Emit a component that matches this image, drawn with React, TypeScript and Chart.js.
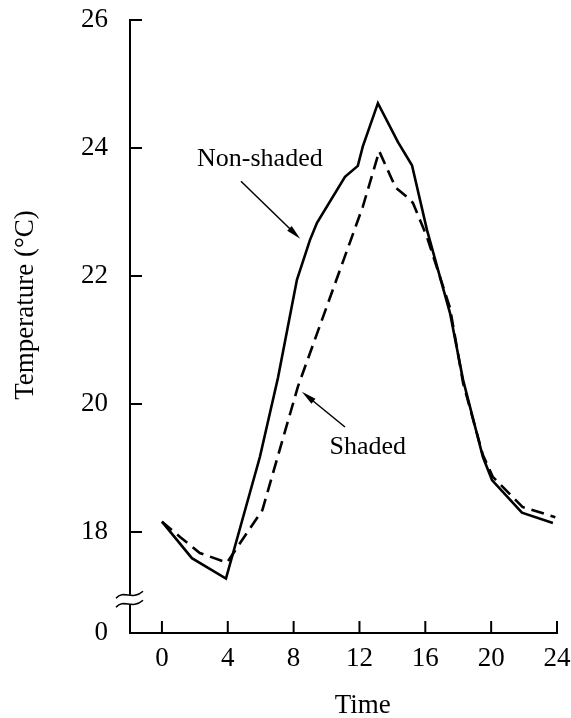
import React, { useEffect, useRef } from 'react';
import { Chart, registerables } from 'chart.js';

Chart.register(...registerables);

// ---- data ----
const NON_SHADED_HOURS = [0, 1.82, 3.89, 5.95, 7.05, 8.2, 8.99, 9.42, 11.12, 11.9, 12.2, 13.12, 14.34, 15.19, 16.1, 17.5, 18.29, 19.5, 20.05, 21.87, 23.75];
const NON_SHADED_TEMPS = [18.16, 17.59, 17.27, 19.17, 20.41, 21.94, 22.56, 22.83, 23.55, 23.72, 24.02, 24.7, 24.09, 23.73, 22.72, 21.42, 20.38, 19.17, 18.81, 18.3, 18.14];

const SHADED_HOURS = [0, 1.1, 2.3, 3.95, 6.1, 8.26, 10.6, 12.2, 13.2, 14.2, 14.9, 15.25, 16.1, 17.5, 18.3, 19.5, 20.1, 21.9, 23.9];
const SHADED_TEMPS = [18.16, 17.92, 17.67, 17.52, 18.34, 20.27, 21.94, 23.08, 23.95, 23.38, 23.23, 23.14, 22.61, 21.5, 20.32, 19.2, 18.86, 18.39, 18.23];

const X_TICKS = [0, 4, 8, 12, 16, 20, 24];
const X_MIN = -1.94;
const X_MAX = 24;

const Y_MIN = 16.42; // position of the "0" below the axis break
const Y_MAX = 26;
const Y_TICKS = [16.42, 18, 20, 22, 24, 26];
const Y_TICK_LABELS = ['0', '18', '20', '22', '24', '26'];
const Y_BREAK = 16.94;

const SERIES_LABELS = ['Non-shaded', 'Shaded'];
const X_TITLE = 'Time';
const Y_TITLE = 'Temperature (°C)';

// annotation anchors in data coordinates
const NON_SHADED_TEXT_AT = { x: 5.95, y: 23.82 };
const NON_SHADED_ARROW = { x1: 4.8, y1: 23.48, x2: 8.4, y2: 22.58 };
const SHADED_TEXT_AT = { x: 12.5, y: 19.22 };
const SHADED_ARROW = { x1: 11.12, y1: 19.64, x2: 8.5, y2: 20.19 };
const X_TITLE_AT = 12.2;

const FONT = "'Liberation Serif', 'Times New Roman', serif";

const toPoints = (xs: number[], ys: number[]) => xs.map((x, i) => ({ x, y: ys[i] }));

const drawArrow = (ctx: CanvasRenderingContext2D, x1: number, y1: number, x2: number, y2: number) => {
  const ang = Math.atan2(y2 - y1, x2 - x1);
  const len = 15;
  const hw = 3.2;
  ctx.beginPath();
  ctx.moveTo(x1, y1);
  ctx.lineTo(x2 - Math.cos(ang) * len * 0.6, y2 - Math.sin(ang) * len * 0.6);
  ctx.lineWidth = 1.5;
  ctx.stroke();
  ctx.beginPath();
  ctx.moveTo(x2, y2);
  ctx.lineTo(x2 - Math.cos(ang) * len - Math.sin(ang) * hw, y2 - Math.sin(ang) * len + Math.cos(ang) * hw);
  ctx.lineTo(x2 - Math.cos(ang) * len + Math.sin(ang) * hw, y2 - Math.sin(ang) * len - Math.cos(ang) * hw);
  ctx.closePath();
  ctx.fill();
};

const axesPlugin = {
  id: 'paperAxes',
  afterDraw(chart: any) {
    const { ctx, scales } = chart;
    const x = scales.x;
    const y = scales.y;
    ctx.save();
    ctx.strokeStyle = '#000';
    ctx.fillStyle = '#000';
    ctx.lineWidth = 2;
    const ax = x.getPixelForValue(X_MIN);
    const y0 = y.getPixelForValue(Y_MIN);
    const yTop = y.getPixelForValue(Y_MAX);
    const yb = y.getPixelForValue(Y_BREAK);
    // y axis with break
    ctx.beginPath();
    ctx.moveTo(ax, yTop - 1);
    ctx.lineTo(ax, yb - 5);
    ctx.moveTo(ax, yb + 5);
    ctx.lineTo(ax, y0 + 1);
    ctx.stroke();
    // x axis
    ctx.beginPath();
    ctx.moveTo(ax - 1, y0);
    ctx.lineTo(x.getPixelForValue(X_MAX) + 1, y0);
    ctx.stroke();
    // inward ticks
    ctx.beginPath();
    Y_TICKS.forEach((v) => {
      if (v <= Y_MIN) return;
      const py = y.getPixelForValue(v);
      ctx.moveTo(ax, py);
      ctx.lineTo(ax + 12, py);
    });
    X_TICKS.forEach((v) => {
      const px = x.getPixelForValue(v);
      ctx.moveTo(px, y0);
      ctx.lineTo(px, y0 - 12);
    });
    ctx.stroke();
    // break symbol
    ctx.lineWidth = 1.6;
    [-4.5, 4.5].forEach((off) => {
      const cy = yb + off;
      ctx.beginPath();
      ctx.moveTo(ax - 14, cy + 3);
      ctx.bezierCurveTo(ax - 6, cy - 6, ax + 2, cy + 6, ax + 13, cy - 4);
      ctx.stroke();
    });
    // titles
    ctx.font = `27px ${FONT}`;
    ctx.textAlign = 'center';
    ctx.textBaseline = 'alphabetic';
    ctx.fillText(X_TITLE, x.getPixelForValue(X_TITLE_AT), 713);
    ctx.save();
    ctx.translate(33, 305);
    ctx.rotate(-Math.PI / 2);
    ctx.fillText(Y_TITLE, 0, 0);
    ctx.restore();
    // annotations
    ctx.font = `26px ${FONT}`;
    ctx.fillText(SERIES_LABELS[0], x.getPixelForValue(NON_SHADED_TEXT_AT.x), y.getPixelForValue(NON_SHADED_TEXT_AT.y) + 7);
    ctx.fillText(SERIES_LABELS[1], x.getPixelForValue(SHADED_TEXT_AT.x), y.getPixelForValue(SHADED_TEXT_AT.y));
    drawArrow(ctx,
      x.getPixelForValue(NON_SHADED_ARROW.x1), y.getPixelForValue(NON_SHADED_ARROW.y1),
      x.getPixelForValue(NON_SHADED_ARROW.x2), y.getPixelForValue(NON_SHADED_ARROW.y2));
    drawArrow(ctx,
      x.getPixelForValue(SHADED_ARROW.x1), y.getPixelForValue(SHADED_ARROW.y1),
      x.getPixelForValue(SHADED_ARROW.x2), y.getPixelForValue(SHADED_ARROW.y2));
    ctx.restore();
  },
};

export default function App() {
  const ref = useRef<HTMLCanvasElement | null>(null);
  useEffect(() => {
    if (!ref.current) return;
    const chart = new Chart(ref.current, {
      type: 'line',
      data: {
        datasets: [
          {
            label: SERIES_LABELS[0],
            data: toPoints(NON_SHADED_HOURS, NON_SHADED_TEMPS),
            borderColor: '#000',
            borderWidth: 2.6,
            pointRadius: 0,
            tension: 0,
            fill: false,
            borderJoinStyle: 'miter',
          },
          {
            label: SERIES_LABELS[1],
            data: toPoints(SHADED_HOURS, SHADED_TEMPS),
            borderColor: '#000',
            borderWidth: 2.6,
            borderDash: [13, 7],
            pointRadius: 0,
            tension: 0,
            fill: false,
          },
        ],
      },
      options: {
        animation: false,
        responsive: false,
        devicePixelRatio: 1,
        layout: { padding: { top: 20, right: 14, left: 0, bottom: 0 } },
        plugins: { legend: { display: false }, tooltip: { enabled: false } },
        scales: {
          x: {
            type: 'linear',
            min: X_MIN,
            max: X_MAX,
            afterBuildTicks: (s: any) => { s.ticks = X_TICKS.map((v) => ({ value: v })); },
            afterFit: (s: any) => { s.height = 85; s.paddingLeft = 0; s.paddingRight = 0; },
            grid: { display: false, drawTicks: false },
            border: { display: false },
            ticks: {
              autoSkip: false,
              maxRotation: 0,
              padding: 10,
              color: '#000',
              font: { family: FONT, size: 27 },
            },
            title: { display: false },
          },
          y: {
            type: 'linear',
            min: Y_MIN,
            max: Y_MAX,
            afterBuildTicks: (s: any) => { s.ticks = Y_TICKS.map((v) => ({ value: v })); },
            afterFit: (s: any) => { s.width = 130; s.paddingTop = 0; s.paddingBottom = 0; },
            grid: { display: false, drawTicks: false },
            border: { display: false },
            ticks: {
              autoSkip: false,
              padding: 22,
              color: '#000',
              font: { family: FONT, size: 27 },
              callback: (value: any) => {
                const i = Y_TICKS.indexOf(Number(value));
                return i >= 0 ? Y_TICK_LABELS[i] : '';
              },
            },
          },
        },
      },
      plugins: [axesPlugin],
    } as any);
    return () => chart.destroy();
  }, []);
  return (
    <div style={{ position: 'absolute', left: 0, top: 0, width: 571, height: 718, background: '#fff' }}>
      <canvas ref={ref} width={571} height={718} style={{ display: 'block' }} />
    </div>
  );
}
